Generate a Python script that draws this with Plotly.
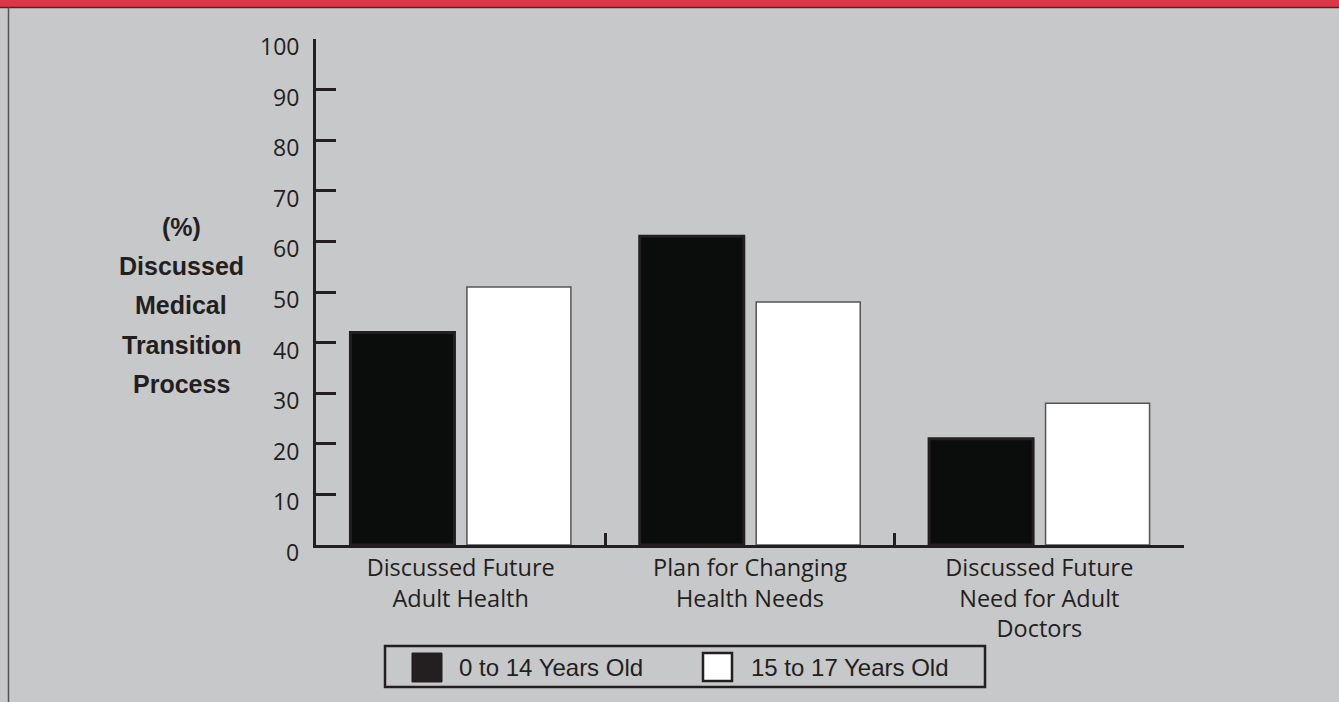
import plotly.graph_objects as go

categories = [
    "Discussed Future<br>Adult Health",
    "Plan for Changing<br>Health Needs",
    "Discussed Future<br>Need for Adult<br>Doctors",
]
series_names = ["0 to 14 Years Old", "15 to 17 Years Old"]
values_0_14 = [42, 61, 21]
values_15_17 = [51, 48, 28]
y_ticks = [0, 10, 20, 30, 40, 50, 60, 70, 80, 90, 100]
y_title_lines = ["(%)", "Discussed", "Medical", "Transition", "Process"]

W, H = 1339, 702
L, R, T, B = 316, 1184, 39, 545  # plot area in pixels
BG = "#c7c8ca"
INK = "#231f20"


def px(x):
    return (x - L) / (R - L)


def py(y):
    return (B - y) / (B - T)


fig = go.Figure()
fig.add_trace(go.Bar(
    x=categories, y=values_0_14, name=series_names[0],
    marker=dict(color="#0b0c0c", line=dict(color=INK, width=3)),
))
fig.add_trace(go.Bar(
    x=categories, y=values_15_17, name=series_names[1],
    marker=dict(color="#ffffff", line=dict(color="#555555", width=1.5)),
))

shapes = []
# red header band + dark rule under it
shapes.append(dict(type="rect", xref="paper", yref="paper", x0=px(0), x1=px(W), y0=py(0), y1=py(7),
                   fillcolor="#db3749", line=dict(width=0), layer="above"))
shapes.append(dict(type="line", xref="paper", yref="paper", x0=px(0), x1=px(W), y0=py(7.5), y1=py(7.5),
                   line=dict(color="#333333", width=1.5), layer="above"))
# left page border
shapes.append(dict(type="line", xref="paper", yref="paper", x0=px(8.5), x1=px(8.5), y0=py(7.5), y1=py(H),
                   line=dict(color="#555555", width=1.5), layer="above"))
# legend box
shapes.append(dict(type="rect", xref="paper", yref="paper", x0=px(385), x1=px(985), y0=py(646), y1=py(687),
                   fillcolor="rgba(0,0,0,0)", line=dict(color=INK, width=2.5), layer="above"))
shapes.append(dict(type="rect", xref="paper", yref="paper", x0=px(412), x1=px(442), y0=py(653), y1=py(682),
                   fillcolor=INK, line=dict(color=INK, width=1), layer="above"))
shapes.append(dict(type="rect", xref="paper", yref="paper", x0=px(703), x1=px(732), y0=py(653), y1=py(681),
                   fillcolor="#ffffff", line=dict(color=INK, width=2.5), layer="above"))

annotations = []
for v in y_ticks:
    annotations.append(dict(xref="paper", yref="y", x=0, y=v, xshift=-15, yshift=-7,
                            text=str(v), showarrow=False, xanchor="right", yanchor="middle",
                            font=dict(family="Open Sans", size=23, color=INK)))
title_y = [227, 266, 305, 345, 384]
for line, yy in zip(y_title_lines, title_y):
    annotations.append(dict(xref="paper", yref="paper", x=px(181), y=py(yy), text="<b>%s</b>" % line,
                            showarrow=False, xanchor="center", yanchor="middle",
                            font=dict(family="Liberation Sans", size=25, color=INK)))
annotations.append(dict(xref="paper", yref="paper", x=px(457), y=py(667), text=series_names[0],
                        showarrow=False, xanchor="left", yanchor="middle",
                        font=dict(family="Liberation Sans", size=24, color=INK)))
annotations.append(dict(xref="paper", yref="paper", x=px(749), y=py(667), text=series_names[1],
                        showarrow=False, xanchor="left", yanchor="middle",
                        font=dict(family="Liberation Sans", size=24, color=INK)))

fig.update_layout(
    width=W, height=H,
    margin=dict(l=L, r=W - R, t=T, b=H - B, pad=0),
    paper_bgcolor=BG, plot_bgcolor=BG,
    barmode="group", bargap=0.195, bargroupgap=0.107,
    showlegend=False,
    shapes=shapes, annotations=annotations,
    xaxis=dict(
        type="category", range=[-0.5, 2.5], showgrid=False, zeroline=False,
        showline=True, linecolor=INK, linewidth=2.5,
        ticks="inside", tickson="boundaries", ticklen=12, tickwidth=2.5, tickcolor=INK,
        tickfont=dict(family="Open Sans", size=23.5, color=INK),
        ticklabelstandoff=0,
    ),
    yaxis=dict(
        range=[0, 100], tickvals=y_ticks, showticklabels=False, showgrid=False, zeroline=False,
        showline=True, linecolor=INK, linewidth=2.5,
        ticks="inside", ticklen=20, tickwidth=2.5, tickcolor=INK,
    ),
)

fig.write_html("out.html", config={"displayModeBar": False})
